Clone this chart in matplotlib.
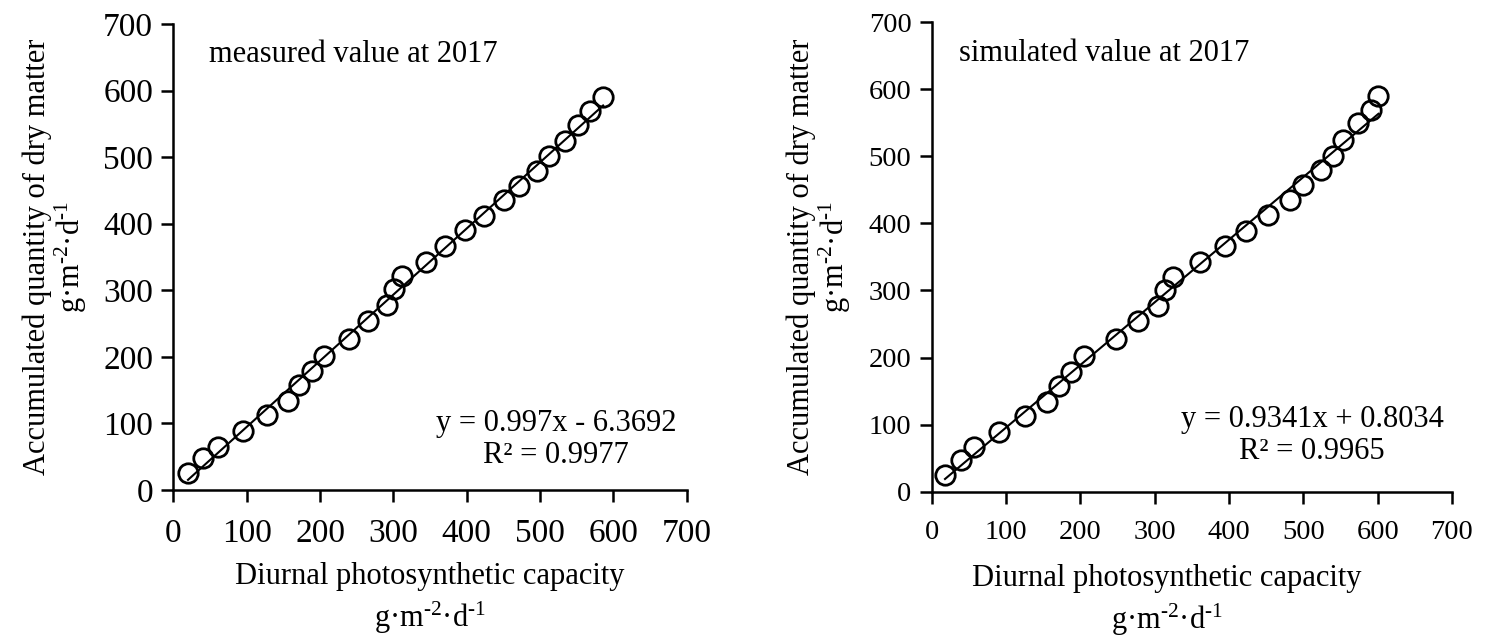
import numpy as np
from matplotlib import pyplot as plt

plt.rcParams['font.family'] = ['Liberation Serif', 'DejaVu Serif']
plt.rcParams['mathtext.fontset'] = 'custom'
plt.rcParams['mathtext.rm'] = 'Liberation Serif'
plt.rcParams['mathtext.it'] = 'Liberation Serif:italic'

# measured value at 2017
x_meas = [20, 40, 61, 95, 128, 157, 172, 189, 205, 239, 265, 291, 301,
          312, 344, 371, 398, 424, 451, 471, 496, 512, 534, 552, 568, 586]
y_meas = [25, 48, 65, 89, 113, 134, 158, 178, 202, 227, 254, 278, 302,
          321, 343, 366, 390, 412, 436, 456, 479, 501, 524, 548, 569, 591]
# simulated value at 2017
x_sim = [18, 39, 57, 90, 125, 155, 172, 188, 205, 248, 277, 304, 314,
         325, 361, 395, 423, 452, 482, 499, 524, 540, 554, 574, 591, 601]
y_sim = [25, 47, 67, 89, 113, 134, 158, 179, 202, 227, 254, 277, 301,
         320, 342, 366, 388, 413, 435, 457, 479, 501, 524, 549, 569, 590]

ticks = [0, 100, 200, 300, 400, 500, 600, 700]
unit = 'g·m$^{\\text{-}2}$·d$^{\\text{-}1}$'
xlab = 'Diurnal photosynthetic capacity\n' + unit
ylab = 'Accumulated quantity of dry matter\n' + unit

fig = plt.figure(figsize=(14.88, 6.38), dpi=100)
ax1 = fig.add_axes([0.1165, 0.232, 0.345, 0.7304])
ax2 = fig.add_axes([0.6261, 0.2293, 0.3497, 0.7359])

panels = [
    (ax1, x_meas, y_meas, 'measured value at 2017', 'y = 0.997x - 6.3692\nR² = 0.9977',
     24, (48, 654), (522, 76), 0.5, -0.229),
    (ax2, x_sim, y_sim, 'simulated value at 2017', 'y = 0.9341x + 0.8034\nR² = 0.9965',
     20.5, (37, 653), (512, 84), 0.452, -0.2146),
]

for ax, xs, ys, title, eq, tsize, tpos, epos, xl_x, yl_x in panels:
    k, b = np.polyfit(xs, ys, 1)
    xx = np.array([min(xs), max(xs)])
    ax.plot(xx, k * xx + b, color='black', lw=1.5, zorder=1)
    ax.plot(xs, ys, 'o', ms=14, mfc='none', mec='black', mew=2.0, zorder=2)

    ax.set_xlim(0, 700)
    ax.set_ylim(0, 700)
    ax.set_xticks(ticks)
    ax.set_yticks(ticks)
    ax.spines['top'].set_visible(False)
    ax.spines['right'].set_visible(False)
    ax.spines['left'].set_linewidth(1.8)
    ax.spines['bottom'].set_linewidth(1.8)
    ax.tick_params(direction='out', length=8.5, width=1.8, labelsize=tsize)
    ax.tick_params(axis='x', pad=12)
    ax.tick_params(axis='y', pad=6)

    ax.text(tpos[0], tpos[1], title, fontsize=22, ha='left', va='center')
    ax.text(epos[0], epos[1], eq, fontsize=22, ha='center', va='center',
            multialignment='center', linespacing=1.15)

    ax.set_xlabel(xlab, fontsize=22, linespacing=1.3)
    ax.xaxis.set_label_coords(xl_x, -0.155)
    ax.text(yl_x, 0.5, ylab, fontsize=22, rotation=90, ha='center', va='center',
            multialignment='center', linespacing=1.05, transform=ax.transAxes)

plt.savefig('out.png', dpi=100)
